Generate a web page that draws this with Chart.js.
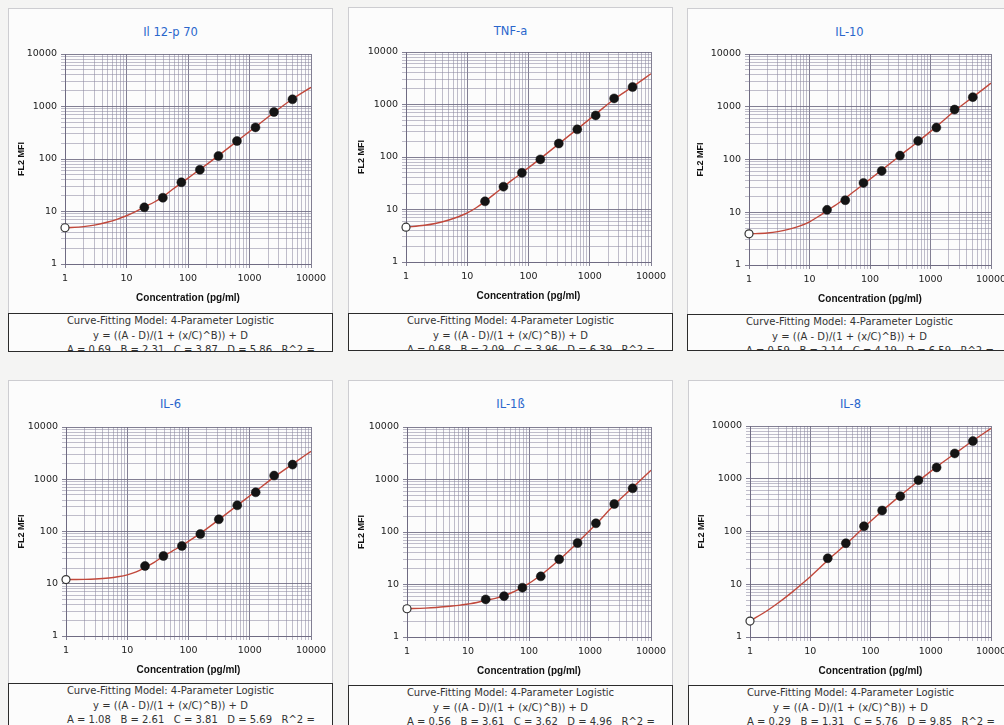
<!DOCTYPE html>
<html>
<head>
<meta charset="utf-8">
<script src="https://cdn.jsdelivr.net/npm/chart.js@4.4.1/dist/chart.umd.min.js"></script>
<style>
  html, body { margin: 0; padding: 0; }
  body { width: 1004px; height: 725px; overflow: hidden; position: relative; background: #f4f4f3; font-family: "DejaVu Sans", sans-serif; }
  .frame { position: absolute; box-sizing: border-box; border: 1px solid #cdcdd1; background: #fcfcfc; }
  .title { position: absolute; text-align: center; color: #2a66cc; font-size: 11.5px; line-height: 14px; }
  canvas { position: absolute; }
  .box { position: absolute; box-sizing: border-box; border: 1px solid #2b2b2b; overflow: hidden; color: #333; font-size: 10px; line-height: 14.5px; background: #fcfcfc; }
  .box div { text-align: center; white-space: pre; }
  .box div.params { text-align: left; padding-left: 58px; }
</style>
</head>
<body>
<script>
// standard concentrations (pg/ml), 2-fold dilutions, plus the blank at 1
const concentrations = [19.5, 39, 78, 156, 312.5, 625, 1250, 2500, 5000];
const blankConc = 1;
const curveConc = [1, 2, 3, 5, 7, 10, 14, 19.5, 28, 39, 55, 78, 156, 312.5, 625, 1250, 2500, 5000, 10000];

const il12Mfi = [12, 18.3, 36, 62.5, 114, 220, 400, 785, 1371];
const il12Blank = 4.9;
const il12Curve = [4.9, 5.15, 5.5, 6.3, 7.1, 8.3, 9.9, 12.2, 15.0, 19, 26, 35, 63, 116, 218, 410, 770, 1390, 2320];
const il12Fit = ["0.69", "2.31", "3.87", "5.86"];

const tnfMfi = [14.3, 27.2, 50, 90, 181, 336, 620, 1306, 2150];
const tnfBlank = 4.6;
const tnfCurve = [4.6, 5.0, 5.4, 6.3, 7.2, 8.6, 10.8, 14.3, 19.8, 27, 37, 50, 93, 178, 340, 655, 1260, 2180, 3860];
const tnfFit = ["0.68", "2.09", "3.96", "6.39"];

const il10Mfi = [11.1, 16.9, 36, 60.8, 118.6, 225, 403, 885, 1521];
const il10Blank = 3.9;
const il10Curve = [3.9, 4.05, 4.3, 4.9, 5.5, 6.6, 8.3, 10.8, 14.0, 18.5, 25, 34, 63, 118, 220, 420, 830, 1520, 2800];
const il10Fit = ["0.59", "2.14", "4.19", "6.59"];

const il6Mfi = [21.9, 34, 52.8, 89.6, 171, 317, 562, 1175, 1906];
const il6Blank = 12;
const il6Curve = [12, 12.15, 12.35, 12.9, 13.6, 14.8, 16.9, 20.5, 26, 33.5, 42.5, 54, 92, 168, 315, 590, 1100, 1950, 3430];
const il6Fit = ["1.08", "2.61", "3.81", "5.69"];

const il1bMfi = [5.2, 6.0, 8.7, 14.3, 30.2, 61.8, 146.5, 341, 679];
const il1bBlank = 3.45;
const il1bCurve = [3.45, 3.55, 3.65, 3.85, 4.0, 4.25, 4.55, 5.0, 5.45, 6.1, 7.2, 8.8, 15, 29.5, 63, 140, 330, 700, 1500];
const il1bFit = ["0.56", "3.61", "3.62", "4.96"];

const il8Mfi = [31.1, 60, 126, 250, 468, 940, 1637, 3020, 5170];
const il8Blank = 2.0;
const il8Curve = [2.0, 3.25, 4.5, 7.1, 9.8, 13.9, 19.8, 28.5, 41, 57, 82, 120, 245, 478, 905, 1680, 2980, 5250, 9000];
const il8Fit = ["0.29", "1.31", "5.76", "9.85"];

const decadeTicks = [1, 10, 100, 1000, 10000];
const minorSteps = [2, 3, 4, 5, 6, 7, 8, 9];
const gridTicks = decadeTicks
  .concat(...decadeTicks.slice(0, -1).map((d) => minorSteps.map((m) => d * m)))
  .sort((a, b) => a - b);

const xTitle = "Concentration (pg/ml)";
const yTitle = "FL2 MFI";
const modelLine = "Curve-Fitting Model: 4-Parameter Logistic";
const formulaLine = "y = ((A - D)/(1 + (x/C)^B)) + D";

// frame: [left, top, bottom], plot: [left, top, right, bottom], box: top of the text box
const panels = [
  { name: "Il 12-p 70", mfi: il12Mfi, blank: il12Blank, curve: il12Curve, fit: il12Fit, frame: [8, 8, 352], plot: [65, 54, 311, 264], box: 313 },
  { name: "TNF-a", mfi: tnfMfi, blank: tnfBlank, curve: tnfCurve, fit: tnfFit, frame: [348, 7, 351], plot: [406, 52, 651, 262], box: 313 },
  { name: "IL-10", mfi: il10Mfi, blank: il10Blank, curve: il10Curve, fit: il10Fit, frame: [687, 8, 351], plot: [749, 54, 991, 265], box: 314 },
  { name: "IL-6", mfi: il6Mfi, blank: il6Blank, curve: il6Curve, fit: il6Fit, frame: [8, 380, 760], plot: [66, 427, 311, 636], box: 683 },
  { name: "IL-1ß", mfi: il1bMfi, blank: il1bBlank, curve: il1bCurve, fit: il1bFit, frame: [348, 380, 760], plot: [407, 427, 651, 637], box: 685 },
  { name: "IL-8", mfi: il8Mfi, blank: il8Blank, curve: il8Curve, fit: il8Fit, frame: [688, 380, 760], plot: [750, 426, 991, 637], box: 685 }
];

const W = 325;
const gridMinor = "rgba(140, 136, 160, 0.55)";
const gridMajor = "rgba(108, 104, 128, 0.85)";

function el(cls, left, top, width, height) {
  const d = document.createElement("div");
  d.className = cls;
  d.style.left = left + "px";
  d.style.top = top + "px";
  d.style.width = width + "px";
  if (height != null) d.style.height = height + "px";
  document.body.appendChild(d);
  return d;
}

function logAxis(afterFit, title) {
  return {
    type: "logarithmic",
    min: 1,
    max: 10000,
    afterBuildTicks: (s) => { s.ticks = gridTicks.map((v) => ({ value: v })); },
    afterFit,
    ticks: {
      autoSkip: false,
      maxRotation: 0,
      color: "#222",
      font: { family: "DejaVu Sans", size: 9.5 },
      callback: (v) => (decadeTicks.includes(v) ? String(v) : "")
    },
    grid: {
      color: (ctx) => (ctx.tick && decadeTicks.includes(ctx.tick.value) ? gridMajor : gridMinor),
      lineWidth: 1,
      tickLength: 4
    },
    border: { color: gridMajor, width: 1 },
    title
  };
}

function drawPanel(p) {
  const [fx, fy, fb] = p.frame;
  const [pl, pt, pr, pb] = p.plot;
  const H = p.box - fy;

  el("frame", fx, fy, W, fb - fy);
  el("title", fx, fy + 17, W).textContent = p.name;

  const canvas = document.createElement("canvas");
  canvas.width = W;
  canvas.height = H;
  canvas.style.left = fx + "px";
  canvas.style.top = fy + "px";
  canvas.style.width = W + "px";
  canvas.style.height = H + "px";
  document.body.appendChild(canvas);

  const box = el("box", fx, p.box, W, fb - p.box);
  [modelLine, formulaLine].forEach((t) => {
    const line = document.createElement("div");
    line.textContent = t;
    box.appendChild(line);
  });
  const params = document.createElement("div");
  params.className = "params";
  params.textContent = `A = ${p.fit[0]}   B = ${p.fit[1]}   C = ${p.fit[2]}   D = ${p.fit[3]}   R^2 = `;
  box.appendChild(params);

  const xHeight = H - (pb - fy);
  const x = logAxis((s) => { s.height = xHeight; }, {
    display: true,
    text: xTitle,
    color: "#111",
    font: { family: "Liberation Sans", size: 10, weight: "bold" },
    padding: { top: 0, bottom: xHeight - 34 - 6 }
  });
  x.ticks.padding = 5;
  const y = logAxis((s) => { s.width = pl - fx; }, {
    display: true,
    text: yTitle,
    color: "#111",
    font: { family: "Liberation Sans", size: 9, weight: "bold" },
    padding: { top: 8, bottom: 0 }
  });
  y.ticks.padding = 4;

  new Chart(canvas, {
    type: "scatter",
    data: {
      datasets: [
        {
          data: p.mfi.map((v, i) => ({ x: concentrations[i], y: v })),
          pointRadius: 4.5,
          backgroundColor: "#141414",
          borderColor: "#141414",
          borderWidth: 0.5,
          clip: false
        },
        {
          data: [{ x: blankConc, y: p.blank }],
          pointRadius: 4,
          backgroundColor: "#fff",
          borderColor: "#333",
          borderWidth: 1.2,
          clip: false
        },
        {
          type: "line",
          data: curveConc.map((c, i) => ({ x: c, y: p.curve[i] })),
          borderColor: "#c1483b",
          borderWidth: 1.4,
          pointRadius: 0,
          cubicInterpolationMode: "monotone",
          fill: false
        }
      ]
    },
    options: {
      responsive: false,
      animation: false,
      events: [],
      layout: { padding: { top: pt - fy, right: W - (pr - fx), bottom: 0, left: 0 } },
      plugins: { legend: { display: false }, tooltip: { enabled: false } },
      scales: { x, y }
    }
  });
}

panels.forEach(drawPanel);
</script>
</body>
</html>
